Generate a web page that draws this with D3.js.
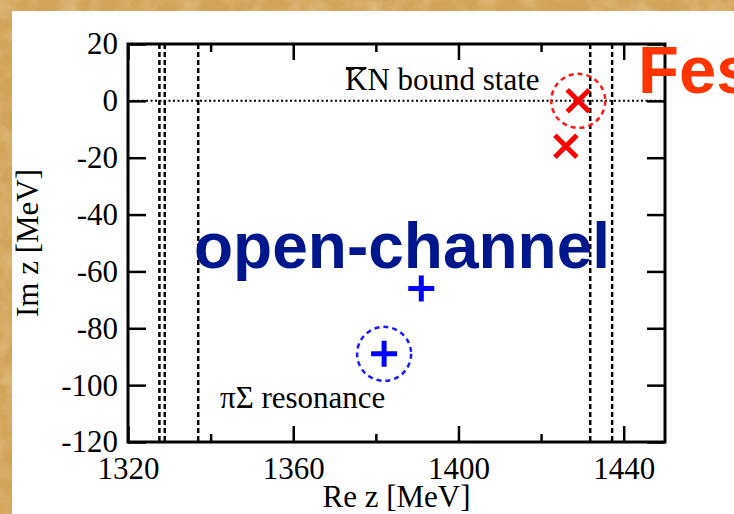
<!DOCTYPE html>
<html>
<head>
<meta charset="utf-8">
<script src="https://cdn.jsdelivr.net/npm/d3@7"></script>
<style>
  body { margin: 0; background: #d3a65c; }
  svg { display: block; }
</style>
</head>
<body>
<div id="chart"></div>
<script>
// axis ticks
const xMajor = [1320, 1360, 1400, 1440];
const xMinor = [1340, 1380, 1420];
const yTicks = [20, 0, -20, -40, -60, -80, -100, -120];

// thresholds (MeV): piSigma channels and KbarN channels
const thresholds = [1327.6, 1328.9, 1337.0, 1431.9, 1437.2];

// poles [Re, Im]
const redPoles = [[1429, 0], [1426, -16]];
const bluePoles = [[1391, -66], [1382, -89]];
const circled = [{ p: [1429, 0], c: "#ff1a1a" }, { p: [1382, -89], c: "#1a1aff" }];

class PoleChart {
    constructor(element) {
        this.ele = d3.select(element);
        this.W = 734;
        this.H = 514;
        this.initParams();
        this.setBackground();
        this.setLines();
        this.setAxes();
        this.setMarks();
        this.setTexts();
    }

    initParams() {
        this.svg = this.ele.append("svg")
            .attr("width", this.W)
            .attr("height", this.H);
        this.left = 128; this.right = 665;
        this.top = 44; this.bottom = 442;
        this.x = d3.scaleLinear().domain([1320, 1450]).range([this.left, this.right]);
        this.y = d3.scaleLinear().domain([-120, 20]).range([this.bottom, this.top]);
    }

    setBackground() {
        let defs = this.svg.append("defs");
        let f = defs.append("filter").attr("id", "paper")
            .attr("x", 0).attr("y", 0).attr("width", 1).attr("height", 1);
        f.append("feTurbulence")
            .attr("type", "fractalNoise")
            .attr("baseFrequency", 0.05)
            .attr("numOctaves", 3)
            .attr("seed", 4);
        f.append("feColorMatrix")
            .attr("type", "matrix")
            .attr("values", "0 0 0 0 0.88  0 0 0 0 0.72  0 0 0 0 0.44  0.8 0 0 0 -0.3");
        this.svg.append("rect")
            .attr("width", this.W).attr("height", this.H)
            .attr("fill", "#d2a459");
        this.svg.append("rect")
            .attr("width", this.W).attr("height", this.H)
            .attr("filter", "url(#paper)");
        this.svg.append("rect")
            .attr("x", 12).attr("y", 11)
            .attr("width", this.W - 12).attr("height", this.H - 11)
            .attr("fill", "#fff");
    }

    setLines() {
        let g = this.svg.append("g");
        g.selectAll("line.thr")
            .data(thresholds)
            .enter()
            .append("line")
            .attr("class", "thr")
            .attr("x1", d => this.x(d)).attr("x2", d => this.x(d))
            .attr("y1", this.top).attr("y2", this.bottom)
            .attr("stroke", "#000")
            .attr("stroke-width", 2.5)
            .attr("stroke-dasharray", "5,3");
        g.append("line")
            .attr("x1", this.left).attr("x2", this.right)
            .attr("y1", this.y(0)).attr("y2", this.y(0))
            .attr("stroke", "#000")
            .attr("stroke-width", 2)
            .attr("stroke-dasharray", "2,2.5");
    }

    setAxes() {
        let x = this.x, y = this.y;
        let serif = "'Liberation Serif', 'Times New Roman', serif";
        let styleAxis = (sel) => {
            sel.select(".domain").remove();
            sel.selectAll("line").attr("stroke", "#000").attr("stroke-width", 2.5);
            sel.selectAll("text")
                .attr("fill", "#000")
                .style("font-family", serif)
                .style("font-size", "31px");
        };
        let fmt = d => String(d);
        // bottom
        this.svg.append("g")
            .attr("transform", "translate(0," + this.bottom + ")")
            .call(d3.axisBottom(x).tickValues(xMajor).tickSize(-16).tickPadding(15).tickFormat(fmt))
            .call(styleAxis);
        this.svg.append("g")
            .attr("transform", "translate(0," + this.bottom + ")")
            .call(d3.axisBottom(x).tickValues(xMinor).tickSize(-8).tickFormat(""))
            .call(styleAxis);
        // top
        this.svg.append("g")
            .attr("transform", "translate(0," + this.top + ")")
            .call(d3.axisTop(x).tickValues(xMajor).tickSize(-16).tickFormat(""))
            .call(styleAxis);
        this.svg.append("g")
            .attr("transform", "translate(0," + this.top + ")")
            .call(d3.axisTop(x).tickValues(xMinor).tickSize(-8).tickFormat(""))
            .call(styleAxis);
        // left
        this.svg.append("g")
            .attr("transform", "translate(" + this.left + ",0)")
            .call(d3.axisLeft(y).tickValues(yTicks).tickSize(-18).tickPadding(10).tickFormat(fmt))
            .call(styleAxis);
        // right
        this.svg.append("g")
            .attr("transform", "translate(" + this.right + ",0)")
            .call(d3.axisRight(y).tickValues(yTicks).tickSize(-18).tickFormat(""))
            .call(styleAxis);
        // frame
        this.svg.append("rect")
            .attr("x", this.left).attr("y", this.top)
            .attr("width", this.right - this.left).attr("height", this.bottom - this.top)
            .attr("fill", "none")
            .attr("stroke", "#000")
            .attr("stroke-width", 3);

        this.svg.append("text")
            .attr("x", (this.left + this.right) / 2)
            .attr("y", 507)
            .attr("text-anchor", "middle")
            .style("font-family", serif).style("font-size", "31px")
            .text("Re z [MeV]");
        this.svg.append("text")
            .attr("transform", "translate(38," + (this.top + this.bottom) / 2 + ") rotate(-90)")
            .attr("text-anchor", "middle")
            .style("font-family", serif).style("font-size", "31px")
            .text("Im z [MeV]");
    }

    setMarks() {
        let g = this.svg.append("g");
        g.selectAll("circle.ring")
            .data(circled)
            .enter()
            .append("circle")
            .attr("cx", d => this.x(d.p[0]))
            .attr("cy", d => this.y(d.p[1]))
            .attr("r", 27)
            .attr("fill", "none")
            .attr("stroke", d => d.c)
            .attr("stroke-width", 2.5)
            .attr("stroke-dasharray", "5,4");

        let cross = (s) => "M" + (-s) + ",0H" + s + "M0," + (-s) + "V" + s;
        let ex = (s) => "M" + (-s) + "," + (-s) + "L" + s + "," + s + "M" + (-s) + "," + s + "L" + s + "," + (-s);

        g.selectAll("path.red")
            .data(redPoles)
            .enter()
            .append("path")
            .attr("d", ex(11))
            .attr("transform", d => "translate(" + this.x(d[0]) + "," + this.y(d[1]) + ")")
            .attr("stroke", "#ff0000")
            .attr("stroke-width", 5)
            .attr("fill", "none");
        g.selectAll("path.blue")
            .data(bluePoles)
            .enter()
            .append("path")
            .attr("d", cross(13))
            .attr("transform", d => "translate(" + this.x(d[0]) + "," + this.y(d[1]) + ")")
            .attr("stroke", "#0000ff")
            .attr("stroke-width", 5)
            .attr("fill", "none");
    }

    setTexts() {
        let serif = "'Liberation Serif', 'Times New Roman', serif";
        let sans = "'Liberation Sans', Arial, sans-serif";
        let kn = this.svg.append("text")
            .attr("x", 345).attr("y", 90)
            .style("font-family", serif).style("font-size", "31px");
        kn.text("KN bound state");
        let kw = kn.node().getSubStringLength(0, 1);
        this.svg.append("line")
            .attr("x1", 346).attr("x2", 345 + kw - 1)
            .attr("y1", 68).attr("y2", 68)
            .attr("stroke", "#000").attr("stroke-width", 2);

        this.svg.append("text")
            .attr("x", 220).attr("y", 408)
            .style("font-family", serif).style("font-size", "31px")
            .text("\u03c0\u03a3 resonance");

        this.svg.append("text")
            .attr("x", 194).attr("y", 268)
            .attr("fill", "#00168c")
            .style("font-family", sans).style("font-weight", "bold").style("font-size", "64px")
            .text("open-channel");

        this.svg.append("text")
            .attr("x", 638).attr("y", 93)
            .attr("fill", "#ff3300")
            .style("font-family", sans).style("font-weight", "bold").style("font-size", "67px")
            .text("Fes");
    }
}

new PoleChart("#chart");
</script>
</body>
</html>
